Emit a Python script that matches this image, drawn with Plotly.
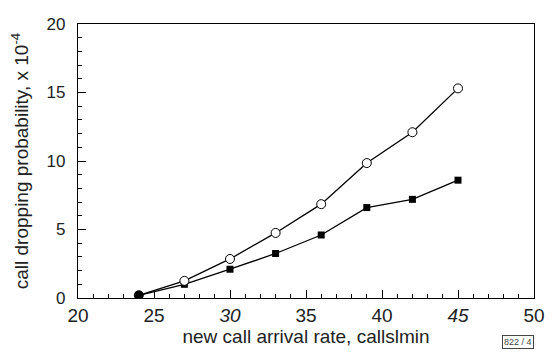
import plotly.graph_objects as go

arrival_rate = [24, 27, 30, 33, 36, 39, 42, 45]
prob_open = [0.2, 1.25, 2.85, 4.75, 6.85, 9.85, 12.1, 15.3]
prob_filled = [0.2, 1.0, 2.1, 3.25, 4.6, 6.6, 7.2, 8.6]
x_tickvals = [20, 25, 30, 35, 40, 45, 50]
x_ticktext = ["20", "25", "<i>30</i>", "35", "40", "<i>45</i>", "50"]
y_tickvals = [0, 5, 10, 15, 20]

fig = go.Figure()
fig.add_trace(go.Scatter(
    x=arrival_rate, y=prob_filled, mode="lines+markers",
    line=dict(color="black", width=1.3),
    marker=dict(symbol="square", size=7, color="black"),
    showlegend=False))
fig.add_trace(go.Scatter(
    x=arrival_rate, y=prob_open, mode="lines+markers",
    line=dict(color="black", width=1.3),
    marker=dict(symbol="circle", size=9,
                color=["black"] + ["white"] * (len(arrival_rate) - 1),
                line=dict(color="black", width=1)),
    showlegend=False))

fig.update_layout(
    width=556, height=352,
    margin=dict(l=78, r=11, t=24, b=53),
    paper_bgcolor="white", plot_bgcolor="white",
    font=dict(family="Liberation Sans, Arial, sans-serif", color="#222", size=16),
    xaxis=dict(
        range=[20, 50], tickvals=x_tickvals, ticktext=x_ticktext,
        ticks="inside", ticklen=8, tickwidth=1, tickcolor="black",
        minor=dict(dtick=1, ticks="inside", ticklen=4, tickcolor="black"),
        showline=True, linecolor="black", linewidth=1.2, mirror=True,
        showgrid=False, zeroline=False,
        tickfont=dict(size=19),
        title=dict(text="new call arrival rate, callslmin", standoff=2,
                   font=dict(size=19, family="Liberation Sans, Arial, sans-serif")),
    ),
    yaxis=dict(
        range=[0, 20], tickvals=y_tickvals,
        ticks="inside", ticklen=8, tickwidth=1, tickcolor="black",
        minor=dict(dtick=1, ticks="inside", ticklen=4, tickcolor="black"),
        showline=True, linecolor="black", linewidth=1.2, mirror=True,
        showgrid=False, zeroline=False,
        tickfont=dict(size=17), ticklabelstandoff=8,
        title=dict(text="call dropping probability, x 10<sup>-4</sup>", standoff=12,
                   font=dict(size=19)),
    ),
)

fig.add_annotation(
    x=1.0, y=-0.135, xref="paper", yref="paper", xanchor="right", yanchor="top",
    text="822 / 4", showarrow=False, font=dict(size=9, color="#444"),
    bordercolor="#444", borderwidth=1, borderpad=1,
)

fig.write_html("out.html", config={"displayModeBar": False},
               post_script="document.body.style.margin='0';")
